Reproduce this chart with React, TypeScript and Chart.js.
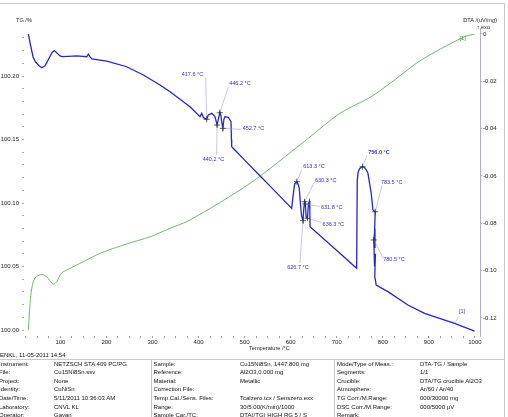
import { useEffect, useRef } from 'react';
import { Chart, registerables } from 'chart.js';

Chart.register(...registerables);

// TG mass curve: temperature (°C) and mass (%)
const tgTemp = [
  30.5, 34.2, 40.7, 46.0, 48.7, 53.7, 59.5, 66.7, 75.4, 81.9, 86.9, 92.8, 99.3, 103.0,
  117.3, 135.5, 157.2, 160.7, 164.4, 168.0, 200.6, 244.0, 280.0, 316.3, 338.0, 381.4,
  403.1, 406.8, 410.7, 417.6, 421.1, 428.5, 435.6, 440.2, 443.0, 446.2, 448.5, 450.5,
  452.7, 455.0, 457.3, 464.5, 470.4, 471.4, 471.9, 480.0, 500.0, 530.0, 560.0, 590.0,
  602.1, 605.0, 608.5, 613.3, 616.0, 618.6, 621.0, 623.5, 626.7, 628.5, 630.3, 631.8,
  633.5, 636.3, 638.5, 640.5, 641.5, 642.0, 700.0, 743.2, 744.5, 746.6, 750.0, 756.0,
  760.0, 764.0, 767.7, 774.8, 778.5, 783.5, 781.0, 783.0, 780.5, 782.0, 784.0, 782.5,
  784.5, 785.6, 811.0, 854.4, 890.7, 955.8, 999.2,
];
const tgMass = [
  100.2330, 100.2260, 100.2150, 100.2110, 100.2100, 100.2080, 100.2065, 100.2080,
  100.2140, 100.2185, 100.2200, 100.2180, 100.2158, 100.2152, 100.2155, 100.2158,
  100.2152, 100.2172, 100.2150, 100.2134, 100.2118, 100.2073, 100.2008, 100.1929,
  100.1876, 100.1758, 100.1680, 100.1706, 100.1672, 100.1659, 100.1693, 100.1706,
  100.1680, 100.1614, 100.1660, 100.1711, 100.1690, 100.1630, 100.1588, 100.1660,
  100.1680, 100.1675, 100.1640, 100.1500, 100.1443, 100.1413, 100.1338, 100.1226,
  100.1115, 100.1003, 100.0958, 100.1050, 100.1150, 100.1168, 100.1150, 100.1115,
  100.1000, 100.0900, 100.0861, 100.0960, 100.1010, 100.0992, 100.0890, 100.0880,
  100.0990, 100.1015, 100.0950, 100.0813, 100.0626, 100.0486, 100.1180, 100.1246,
  100.1272, 100.1286, 100.1280, 100.1262, 100.1234, 100.1077, 100.0945, 100.0931,
  100.0650, 100.0800, 100.0709, 100.0500, 100.0600, 100.0420, 100.0380, 100.0354,
  100.0302, 100.0197, 100.0131, 100.0053, 99.9992,
];

// DTA signal: temperature (°C) and uV/mg
const dtaTemp = [
  30.5, 34.2, 37.8, 45.0, 59.5, 70.4, 84.7, 92.1, 103.0, 117.3, 149.8, 186.0, 244.0,
  294.6, 338.0, 381.4, 511.6, 633.6, 706.9, 774.8, 825.6, 883.3, 977.5, 999.2,
];
const dtaSignal = [
  -0.1251, -0.1138, -0.1075, -0.1031, -0.1016, -0.1026, -0.1057, -0.1046, -0.1010,
  -0.0994, -0.0962, -0.0927, -0.0887, -0.0857, -0.0821, -0.0786, -0.0631, -0.0448,
  -0.0335, -0.0265, -0.0194, -0.0110, -0.0011, -0.0001,
];

// Evaluated points on the TG curve
const evalTemp = [417.6, 446.2, 452.7, 440.2, 613.3, 630.3, 631.8, 636.3, 626.7, 756.0, 783.5, 780.5];
const evalMass = [
  100.1659, 100.1711, 100.1588, 100.1614, 100.1168, 100.1010, 100.0992, 100.0880,
  100.0861, 100.1286, 100.0931, 100.0709,
];
const evalBold = [false, false, false, false, false, false, false, false, false, true, false, false];

// Label placement for each evaluated point: text dx, dy, leader end dx, dy (px)
const evalLabelOffsets = [
  [-25, -45.3, -1, -42],
  [9.4, -29.4, 8.6, -26.2],
  [19.8, 0.2, 18.1, 1],
  [-14.4, 34, -0.4, 30],
  [6.4, -15, 4.8, -11.7],
  [10.3, -21.7, 9.8, -19.7],
  [15.6, 3.7, 14.6, 2.5],
  [15.2, 5.8, 14, 4.3],
  [-15.8, 46.6, -3.1, 42.3],
  [5.7, -14, 4.4, -11.2],
  [5.7, -29.5, 6.7, -26.3],
  [9.4, 20, 9.1, 17.5],
];

const xTickLabels = ['100', '200', '300', '400', '500', '600', '700', '800', '900', '1000'];
const tgTickLabels = ['100.00', '100.05', '100.10', '100.15', '100.20'];
const dtaTickLabels = ['0', '-0.02', '-0.04', '-0.06', '-0.08', '-0.10', '-0.12'];

const infoCols = [
  {
    x: 0,
    vx: 54,
    rows: [
      ['Instrument:', 'NETZSCH STA 409 PC/PG'],
      ['File:', 'Cu15Ni8Sn.ssv'],
      ['Project:', 'None'],
      ['Identity:', 'CuNiSn'],
      ['Date/Time:', '5/11/2011 10:36:03 AM'],
      ['Laboratory:', 'CNVL KL'],
      ['Operator:', 'Gayan'],
    ],
  },
  {
    x: 153.5,
    vx: 240,
    rows: [
      ['Sample:', 'Cu15Ni8Sn, 1447.800 mg'],
      ['Reference:', 'Al2O3,0.000 mg'],
      ['Material:', 'Metallic'],
      ['Correction File:', ''],
      ['Temp.Cal./Sens. Files:', 'Tcalzero.tcx / Senszero.exx'],
      ['Range:', '30/5.00(K/min)/1000'],
      ['Sample Car./TC:', 'DTA(/TG) HIGH RG 5 / S'],
    ],
  },
  {
    x: 337,
    vx: 420,
    rows: [
      ['Mode/Type of Meas.:', 'DTA-TG / Sample'],
      ['Segments:', '1/1'],
      ['Crucible:', 'DTA/TG crucible Al2O3'],
      ['Atmosphere:', 'Ar/60 / Ar/40'],
      ['TG Corr./M.Range:', '000/30000 mg'],
      ['DSC Corr./M.Range:', '000/5000 µV'],
      ['Remark:', ''],
    ],
  },
];

const FONT = '"Liberation Sans", Arial, sans-serif';
const TG_BLUE = 'rgb(38,38,205)';
const LABEL_BLUE = 'rgb(50,50,195)';
const DTA_GREEN = 'rgb(80,165,80)';

const decorations = {
  id: 'decorations',
  beforeDraw(chart: any) {
    const { ctx } = chart;
    ctx.save();
    ctx.fillStyle = '#fff';
    ctx.fillRect(0, 0, chart.width, chart.height);
    ctx.strokeStyle = '#c8c8c8';
    ctx.lineWidth = 1;
    ctx.beginPath();
    ctx.moveTo(0, 3.5);
    ctx.lineTo(504.5, 3.5);
    ctx.lineTo(504.5, chart.height);
    ctx.stroke();
    ctx.restore();
  },
  afterDatasetsDraw(chart: any) {
    const { ctx, chartArea } = chart;
    const x = chart.scales.x;
    const yTG = chart.scales.yTG;
    const yDTA = chart.scales.yDTA;
    ctx.save();
    ctx.textBaseline = 'middle';
    ctx.textAlign = 'left';

    evalTemp.forEach((t, i) => {
      const px = x.getPixelForValue(t);
      const py = yTG.getPixelForValue(evalMass[i]);
      const [tx, ty, lx, ly] = evalLabelOffsets[i];
      ctx.strokeStyle = 'rgba(150,150,200,0.9)';
      ctx.lineWidth = 0.6;
      ctx.beginPath();
      ctx.moveTo(px, py);
      ctx.lineTo(px + lx, py + ly);
      ctx.stroke();
      ctx.strokeStyle = '#333';
      ctx.lineWidth = 0.8;
      ctx.beginPath();
      ctx.moveTo(px - 3, py);
      ctx.lineTo(px + 3, py);
      ctx.moveTo(px, py - 3);
      ctx.lineTo(px, py + 3);
      ctx.stroke();
      ctx.fillStyle = LABEL_BLUE;
      ctx.font = `${evalBold[i] ? 'bold ' : ''}5.5px ${FONT}`;
      ctx.fillText(`${t.toFixed(1)} °C`, px + tx, py + ty);
    });

    // curve tags
    const tgEnd = tgTemp.length - 2;
    const ax = x.getPixelForValue(tgTemp[tgEnd]);
    const ay = yTG.getPixelForValue(tgMass[tgEnd]);
    ctx.strokeStyle = 'rgba(150,150,200,0.9)';
    ctx.lineWidth = 0.6;
    ctx.beginPath();
    ctx.moveTo(ax, ay);
    ctx.lineTo(ax + 4.1, ay - 6.6);
    ctx.stroke();
    ctx.fillStyle = LABEL_BLUE;
    ctx.font = `5.5px ${FONT}`;
    ctx.fillText('[1]', ax + 4.4, ay - 11.6);

    const dEnd = dtaTemp.length - 2;
    const bx = x.getPixelForValue(dtaTemp[dEnd]);
    const by = yDTA.getPixelForValue(dtaSignal[dEnd]);
    ctx.fillStyle = 'rgb(40,130,40)';
    ctx.fillText('[1]', bx - 5, by + 1.4);

    // axis titles
    ctx.fillStyle = '#222';
    ctx.font = `5.6px ${FONT}`;
    ctx.fillText('TG /%', chartArea.left - 8, chartArea.top - 8);
    ctx.textAlign = 'right';
    ctx.fillText('DTA /(uV/mg)', chartArea.right + 17, chartArea.top - 8);
    ctx.fillText('\u2191 exo', chartArea.right + 10, chartArea.top - 0.5);
    ctx.textAlign = 'left';
    ctx.fillText('Temperature /°C', 249, chartArea.bottom + 12);
    ctx.restore();
  },
};

export default function App() {
  const ref = useRef<HTMLCanvasElement>(null);

  useEffect(() => {
    const tgTickValues: number[] = [];
    for (let i = 0; i <= 23; i++) tgTickValues.push(Math.round((100 + i * 0.01) * 100) / 100);
    const xTickValues: number[] = [];
    for (let v = 25; v <= 1000; v += 25) xTickValues.push(v);

    const chart = new Chart(ref.current as HTMLCanvasElement, {
      type: 'line',
      data: {
        datasets: [
          {
            label: 'TG',
            data: tgTemp.map((t, i) => ({ x: t, y: tgMass[i] })),
            yAxisID: 'yTG',
            borderColor: TG_BLUE,
            borderWidth: 1.3,
            pointRadius: 0,
            tension: 0,
          },
          {
            label: 'DTA',
            data: dtaTemp.map((t, i) => ({ x: t, y: dtaSignal[i] })),
            yAxisID: 'yDTA',
            borderColor: DTA_GREEN,
            borderWidth: 0.8,
            pointRadius: 0,
            tension: 0.3,
          },
        ],
      },
      options: {
        responsive: false,
        animation: false,
        devicePixelRatio: 1,
        layout: { padding: { top: 28, left: 0, right: 0, bottom: 69 } },
        plugins: { legend: { display: false }, tooltip: { enabled: false } },
        scales: {
          x: {
            type: 'linear',
            min: 21,
            max: 1011,
            afterBuildTicks: (s: any) => {
              s.ticks = xTickValues.map((v) => ({ value: v }));
            },
            afterFit: (s: any) => {
              s.height = 12;
            },
            ticks: {
              autoSkip: false,
              maxRotation: 0,
              padding: 1,
              color: '#222',
              font: { size: 6, family: FONT },
              callback: (v: any) => xTickLabels.find((l) => Number(l) === v) ?? '',
            },
            grid: { drawOnChartArea: false, drawTicks: true, tickLength: 2, color: '#999' },
            border: { display: false },
          },
          yTG: {
            type: 'linear',
            position: 'left',
            min: 99.99528,
            max: 100.2378,
            afterBuildTicks: (s: any) => {
              s.ticks = tgTickValues.map((v) => ({ value: v }));
            },
            afterFit: (s: any) => {
              s.width = 24;
            },
            ticks: {
              autoSkip: false,
              padding: 3,
              color: '#222',
              font: { size: 6, family: FONT },
              callback: (v: any) => tgTickLabels.find((l) => Math.abs(Number(l) - v) < 1e-6) ?? '',
            },
            grid: { drawOnChartArea: false, drawTicks: true, tickLength: 2, color: '#aaa' },
            border: { display: false },
          },
          yDTA: {
            type: 'linear',
            position: 'right',
            min: -0.12761,
            max: 0.002535,
            afterBuildTicks: (s: any) => {
              s.ticks = dtaTickLabels.map((l) => ({ value: Number(l) }));
            },
            afterFit: (s: any) => {
              s.width = 28;
            },
            ticks: {
              autoSkip: false,
              padding: 1,
              color: '#222',
              font: { size: 6, family: FONT },
              callback: (v: any) => dtaTickLabels.find((l) => Math.abs(Number(l) - v) < 1e-6) ?? '',
            },
            grid: { drawOnChartArea: false, drawTicks: true, tickLength: 2, color: 'rgb(170,170,210)' },
            border: { display: true, color: 'rgb(175,175,215)', width: 1 },
          },
        },
      },
      plugins: [decorations],
    } as any);
    return () => chart.destroy();
  }, []);

  const textStyle = (left: number, top: number) => ({
    position: 'absolute' as const,
    left,
    top,
    font: `6px ${FONT}`,
    lineHeight: '8px',
    color: '#111',
    whiteSpace: 'nowrap' as const,
  });

  return (
    <div
      style={{
        position: 'fixed',
        left: 0,
        top: 0,
        width: 508,
        height: 417,
        overflow: 'hidden',
        background: '#fff',
      }}
    >
      <canvas ref={ref} width={508} height={417} style={{ display: 'block', width: 508, height: 417 }} />
      <div style={textStyle(0, 351)}>ENKL, 11-05-2011 14:54</div>
      <div style={{ position: 'absolute', left: 0, top: 359, width: 504, height: 0, borderTop: '1px solid #c8c8c8' }} />
      <div style={{ position: 'absolute', left: 151, top: 359, width: 0, height: 58, borderLeft: '1px solid #c8c8c8' }} />
      <div style={{ position: 'absolute', left: 334, top: 359, width: 0, height: 58, borderLeft: '1px solid #c8c8c8' }} />
      {infoCols.map((col, c) =>
        col.rows.map((r, i) => (
          <div key={`${c}-${i}`}>
            <div style={textStyle(col.x - (c === 0 ? 1 : 0), 359.5 + i * 8.6)}>{r[0]}</div>
            <div style={textStyle(col.vx, 359.5 + i * 8.6)}>{r[1]}</div>
          </div>
        ))
      )}
    </div>
  );
}
